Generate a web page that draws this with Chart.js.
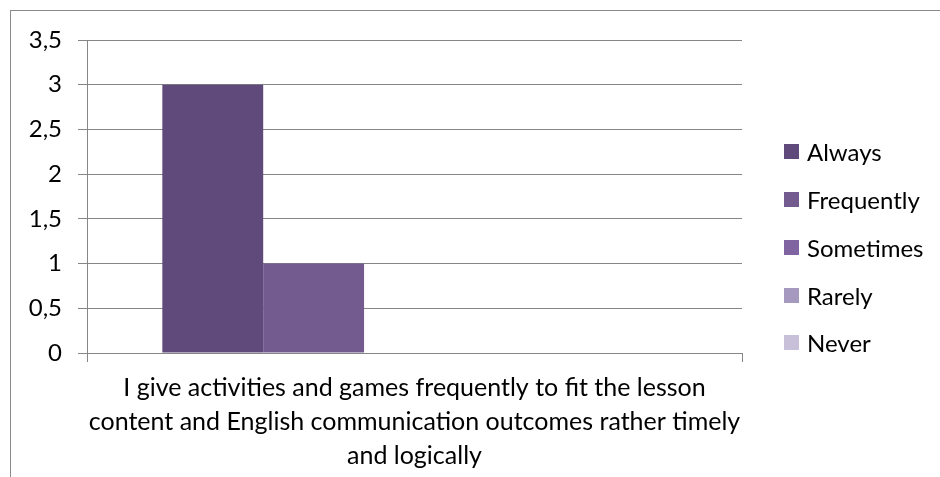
<!DOCTYPE html>
<html>
<head>
<meta charset="utf-8">
<script src="https://cdn.jsdelivr.net/npm/chart.js@4.4.0/dist/chart.umd.min.js"></script>
<style>
  html, body { margin: 0; padding: 0; background: #fff; overflow: hidden; }
  body { width: 940px; height: 477px; position: relative; font-family: Lato, "Open Sans", sans-serif; }
  #frame { position: absolute; left: 10px; top: 10px; width: 1000px; height: 600px;
           border-left: 1px solid #8a8a8a; border-top: 1px solid #8a8a8a; }
  #wrap { position: absolute; left: 0; top: 0; width: 940px; height: 477px; }
  #legend { position: absolute; left: 784px; top: 128px; }
  #legend .item { height: 47.75px; display: flex; align-items: center; font-size: 24px; color: #000; }
  #legend .box { width: 15px; height: 15px; margin-right: 8px; }
</style>
</head>
<body>
<div id="frame"></div>
<div id="wrap"><canvas id="myChart" width="940" height="477"></canvas></div>
<div id="legend"></div>
<script>
// datos
const categories = [
  ["I give activities and games frequently to fit the lesson",
   "content and English communication outcomes rather timely",
   "and logically"]
];
const seriesNames = ['Always', 'Frequently', 'Sometimes', 'Rarely', 'Never'];
const always = [3];
const frequently = [1];
const sometimes = [0];
const rarely = [0];
const never = [0];
const yTickLabels = ['0', '0,5', '1', '1,5', '2', '2,5', '3', '3,5'];

const colors = ['#604a7b', '#735a8f', '#8064a2', '#a699bf', '#c8c0d9'];
const values = [always, frequently, sometimes, rarely, never];

const datasets = seriesNames.map((name, i) => ({
  label: name,
  data: values[i],
  backgroundColor: colors[i],
  borderWidth: 0,
  barPercentage: 1,
  categoryPercentage: 0.77
}));

// leyenda en html
const legend = document.querySelector("#legend");
seriesNames.forEach((name, i) => {
  legend.innerHTML += `<div class="item"><span class="box" style="background:${colors[i]}"></span>${name}</div>`;
});

const gridColor = '#868686';
const ctx = document.querySelector("#myChart");

new Chart(ctx, {
  type: 'bar',
  data: {
    labels: categories,
    datasets: datasets
  },
  options: {
    responsive: false,
    animation: false,
    layout: { padding: { top: 40, right: 198, left: 0, bottom: 0 } },
    plugins: {
      legend: { display: false },
      tooltip: { enabled: false }
    },
    scales: {
      x: {
        grid: { drawOnChartArea: false, drawTicks: true, tickLength: 9, color: gridColor },
        border: { color: gridColor },
        ticks: {
          color: '#000',
          padding: 9,
          maxRotation: 0,
          font: { family: 'Lato', size: 25, lineHeight: 1.36 }
        },
        afterFit: (scale) => { scale.height = 124; }
      },
      y: {
        min: 0,
        max: 3.5,
        grid: { color: gridColor, tickLength: 9 },
        border: { color: gridColor },
        ticks: {
          stepSize: 0.5,
          color: '#000',
          padding: 16,
          font: { family: 'Lato', size: 24 },
          callback: (v, i) => yTickLabels[i]
        },
        afterFit: (scale) => { scale.width = 87; }
      }
    }
  }
});
</script>
</body>
</html>
